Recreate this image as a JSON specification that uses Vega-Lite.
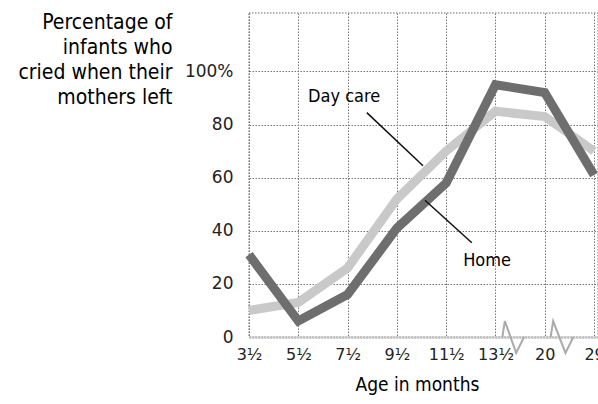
{
  "$schema": "https://vega.github.io/schema/vega-lite/v6.json",
  "autosize": {"type": "none"},
  "width": 349,
  "height": 324,
  "padding": {"left": 249, "top": 13, "right": 0, "bottom": 67},
  "background": "white",
  "config": {
    "view": {"stroke": "#9a9a9a", "strokeWidth": 1.5, "strokeDash": [1.5, 1.5]},
    "font": "DejaVu Sans Condensed, DejaVu Sans"
  },
  "datasets": {
    "series": [
      {"idx": 0, "age": "3½", "group": "Day care", "pct": 10},
      {"idx": 1, "age": "5½", "group": "Day care", "pct": 13},
      {"idx": 2, "age": "7½", "group": "Day care", "pct": 26},
      {"idx": 3, "age": "9½", "group": "Day care", "pct": 52},
      {"idx": 4, "age": "11½", "group": "Day care", "pct": 70},
      {"idx": 5, "age": "13½", "group": "Day care", "pct": 85},
      {"idx": 6, "age": "20", "group": "Day care", "pct": 83},
      {"idx": 7, "age": "29", "group": "Day care", "pct": 70},
      {"idx": 0, "age": "3½", "group": "Home", "pct": 31},
      {"idx": 1, "age": "5½", "group": "Home", "pct": 6},
      {"idx": 2, "age": "7½", "group": "Home", "pct": 16},
      {"idx": 3, "age": "9½", "group": "Home", "pct": 41},
      {"idx": 4, "age": "11½", "group": "Home", "pct": 58},
      {"idx": 5, "age": "13½", "group": "Home", "pct": 95},
      {"idx": 6, "age": "20", "group": "Home", "pct": 92},
      {"idx": 7, "age": "29", "group": "Home", "pct": 61}
    ],
    "labels": [
      {"x": 1.93, "y": 90.5, "text": "Day care"},
      {"x": 4.83, "y": 28.5, "text": "Home"}
    ],
    "pointers": [
      {"id": "d", "x": 2.39, "y": 84.5},
      {"id": "d", "x": 3.53, "y": 64.5},
      {"id": "h", "x": 3.57, "y": 51.5},
      {"id": "h", "x": 4.52, "y": 35.5}
    ],
    "breaks": [
      {"id": "a", "o": 0, "x": 5.14, "y": 0},
      {"id": "a", "o": 1, "x": 5.19, "y": 6},
      {"id": "a", "o": 2, "x": 5.42, "y": -6},
      {"id": "a", "o": 3, "x": 5.58, "y": 0},
      {"id": "b", "o": 0, "x": 6.12, "y": 0},
      {"id": "b", "o": 1, "x": 6.17, "y": 6},
      {"id": "b", "o": 2, "x": 6.42, "y": -6},
      {"id": "b", "o": 3, "x": 6.58, "y": 0}
    ]
  },
  "layer": [
    {
      "data": {"name": "series"},
      "mark": {"type": "line", "strokeWidth": 9, "strokeCap": "butt", "strokeJoin": "miter"},
      "encoding": {
        "x": {
          "field": "idx", "type": "quantitative",
          "scale": {"domain": [0, 7.08], "nice": false, "zero": false},
          "axis": {
            "values": [0, 1, 2, 3, 4, 5, 6, 7],
            "labelExpr": "['3½','5½','7½','9½','11½','13½','20','29'][datum.value]",
            "title": "Age in months",
            "titleFont": "DejaVu Sans Condensed, DejaVu Sans", "titleFontSize": 19, "titleFontWeight": "normal", "titleColor": "#000",
            "titleAnchor": "start", "titleX": 106, "titlePadding": 13,
            "labelFont": "DejaVu Sans", "labelFontSize": 16, "labelColor": "#222", "labelPadding": 9,
            "ticks": false, "domainColor": "#c4c4c4", "domainWidth": 3, "domainDash": [2, 1],
            "grid": true, "gridColor": "#777", "gridDash": [1.5, 1.5], "gridWidth": 1,
            "labelFlush": false, "labelOverlap": false
          }
        },
        "y": {
          "field": "pct", "type": "quantitative",
          "scale": {"domain": [0, 122], "nice": false},
          "axis": {
            "values": [0, 20, 40, 60, 80, 100],
            "labelExpr": "datum.value == 100 ? '100%' : datum.label",
            "labelFont": "DejaVu Sans", "labelFontSize": 17, "labelColor": "#222", "labelPadding": 16,
            "ticks": false, "domain": false,
            "grid": true, "gridColor": "#777", "gridDash": [1.5, 1.5], "gridWidth": 1,
            "title": ["Percentage of", "infants who", "cried when their", "mothers left"],
            "titleFont": "DejaVu Sans Condensed, DejaVu Sans", "titleFontSize": 21, "titleFontWeight": "normal", "titleColor": "#000",
            "titleAngle": 0, "titleAlign": "right", "titleBaseline": "top",
            "titleX": -77, "titleY": -2, "titleLineHeight": 25
          }
        },
        "color": {
          "field": "group", "type": "nominal",
          "scale": {"domain": ["Day care", "Home"], "range": ["#c9c9c9", "#6e6e6e"]},
          "legend": null
        },
        "order": {"field": "idx"}
      }
    },
    {
      "data": {"name": "breaks"},
      "mark": {"type": "line", "stroke": "#aaa", "strokeWidth": 2, "clip": false},
      "encoding": {
        "x": {"field": "x", "type": "quantitative"},
        "y": {"field": "y", "type": "quantitative"},
        "detail": {"field": "id"},
        "order": {"field": "o"}
      }
    },
    {
      "data": {"name": "pointers"},
      "mark": {"type": "line", "stroke": "#111", "strokeWidth": 1.5},
      "encoding": {
        "x": {"field": "x", "type": "quantitative"},
        "y": {"field": "y", "type": "quantitative"},
        "detail": {"field": "id"}
      }
    },
    {
      "data": {"name": "labels"},
      "mark": {"type": "text", "font": "DejaVu Sans Condensed, DejaVu Sans", "fontSize": 18, "color": "#000", "align": "center", "baseline": "middle"},
      "encoding": {
        "x": {"field": "x", "type": "quantitative"},
        "y": {"field": "y", "type": "quantitative"},
        "text": {"field": "text"}
      }
    }
  ]
}
